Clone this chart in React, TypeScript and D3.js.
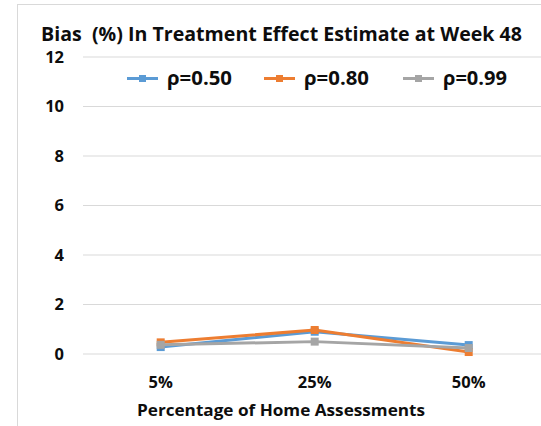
import React from "react";
import * as d3 from "d3";

const categories = ["5%", "25%", "50%"];
const seriesNames = ["ρ=0.50", "ρ=0.80", "ρ=0.99"];
const rho050 = [0.28, 0.9, 0.36];
const rho080 = [0.47, 0.97, 0.08];
const rho099 = [0.37, 0.5, 0.24];
const yTicks = [0, 2, 4, 6, 8, 10, 12];
const colors = ["#5B9BD5", "#ED7D31", "#A5A5A5"];

const W = 541;
const H = 426;
const FONT = "'Open Sans', 'Liberation Sans', sans-serif";

export default function App() {
  const series = [rho050, rho080, rho099];
  const x = d3.scaleBand<string>().domain(categories).range([83.7, 545.7]);
  const y = d3.scaleLinear().domain([0, 12]).range([354, 57]);
  const line = d3
    .line<number>()
    .x((_, i) => (x(categories[i]) as number) + x.bandwidth() / 2)
    .y((d) => y(d));

  const legendX = [127, 264, 403];
  const legendTextLen = [65, 65, 64];
  const legendY = 78.5;

  return (
    <svg
      width={W}
      height={H}
      style={{ position: "absolute", left: 0, top: 0, background: "#fff" }}
      fontFamily={FONT}
    >
      <rect x={0} y={0} width={W} height={H} fill="#fff" />
      <line x1={17.5} x2={17.5} y1={4} y2={H} stroke="#d9d9d9" />
      <line x1={17} x2={W} y1={4.5} y2={4.5} stroke="#d9d9d9" />
      <text
        x={41}
        y={41}
        fontSize={19}
        fontWeight="bold"
        fill="#0d0d0d"
        textLength={481}
        lengthAdjust="spacingAndGlyphs"
        style={{ whiteSpace: "pre" }}
      >
        Bias  (%) In Treatment Effect Estimate at Week 48
      </text>
      {yTicks.map((t) => (
        <g key={t}>
          <line x1={83} x2={W} y1={y(t)} y2={y(t)} stroke="#d9d9d9" strokeWidth={1} />
          <text
            x={64}
            y={y(t)}
            dy="0.35em"
            textAnchor="end"
            fontSize={16.5}
            fontWeight="bold"
            fill="#0d0d0d"
          >
            {t}
          </text>
        </g>
      ))}
      {categories.map((c) => (
        <text
          key={c}
          x={(x(c) as number) + x.bandwidth() / 2}
          y={382}
          dy="0.35em"
          textAnchor="middle"
          fontSize={16.5}
          fontWeight="bold"
          fill="#0d0d0d"
        >
          {c}
        </text>
      ))}
      <text
        x={137}
        y={410}
        dy="0.35em"
        fontSize={16.5}
        fontWeight="bold"
        fill="#0d0d0d"
        textLength={288}
        lengthAdjust="spacingAndGlyphs"
      >
        Percentage of Home Assessments
      </text>
      {series.map((s, si) => (
        <g key={si}>
          <path d={line(s) || ""} fill="none" stroke={colors[si]} strokeWidth={3} strokeLinejoin="round" />
          {s.map((v, i) => (
            <rect
              key={i}
              x={(x(categories[i]) as number) + x.bandwidth() / 2 - 4}
              y={y(v) - 4}
              width={8}
              height={8}
              fill={colors[si]}
            />
          ))}
        </g>
      ))}
      {seriesNames.map((n, i) => (
        <g key={n}>
          <line
            x1={legendX[i]}
            x2={legendX[i] + 31}
            y1={legendY}
            y2={legendY}
            stroke={colors[i]}
            strokeWidth={3}
          />
          <rect x={legendX[i] + 15.5 - 3.5} y={legendY - 3.5} width={7} height={7} fill={colors[i]} />
          <text
            x={legendX[i] + 40}
            y={legendY}
            dy="0.35em"
            fontSize={19}
            fontWeight="bold"
            fill="#0d0d0d"
            textLength={legendTextLen[i]}
            lengthAdjust="spacingAndGlyphs"
          >
            {n}
          </text>
        </g>
      ))}
    </svg>
  );
}
